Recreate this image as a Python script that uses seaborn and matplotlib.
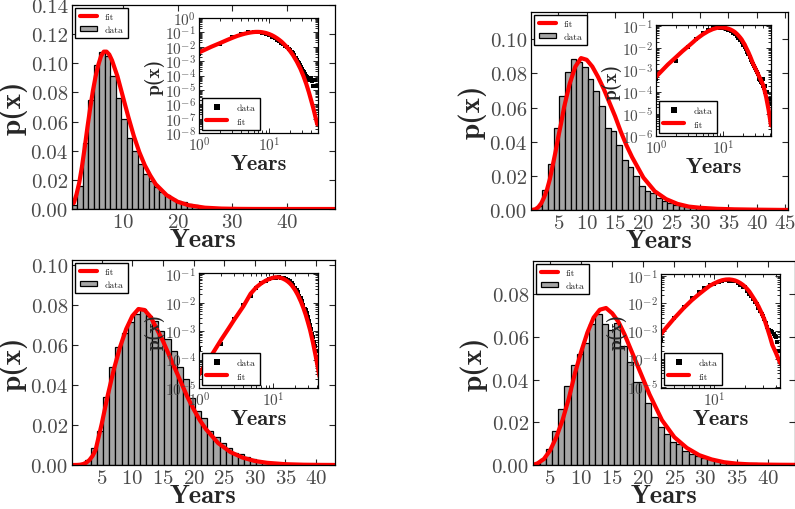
import numpy as np
import seaborn as sns
import matplotlib
matplotlib.use("Agg")
import matplotlib.pyplot as plt
from matplotlib.ticker import FormatStrFormatter, MultipleLocator, LogLocator, NullFormatter

# ---- data ----
# panel 1 (top left)
years_a = list(range(1, 49))
dens_a = [0.003, 0.016, 0.045, 0.075, 0.099, 0.108, 0.105, 0.091, 0.076, 0.062,
          0.049, 0.040, 0.031, 0.024, 0.019, 0.015, 0.012, 0.0093, 0.0072, 0.0058,
          0.0045, 0.0034, 0.0026, 0.0016, 0.0012, 0.0009, 0.0007, 0.0005, 0.0004, 0.0003,
          0.00022, 0.00017, 0.00013, 0.0001, 0.00008, 0.00006, 0.00005, 0.00006, 0.00005, 0.00007,
          0.00004, 0.00005, 0.00002, 0.00005, 0.00002, 0.00005, 0.00002, 0.00002]
fitx_a = [1.0, 1.5, 2, 2.5, 3, 3.5, 4, 4.5, 5, 5.5, 6, 6.5, 7, 7.5, 8, 9, 10, 11, 12, 13,
          14, 15, 16, 18, 20, 22, 25, 28, 31, 34, 37, 40, 43, 46, 48.8]
fity_a = [0.004, 0.010, 0.018, 0.029, 0.042, 0.056, 0.069, 0.081, 0.091, 0.099, 0.105,
          0.108, 0.108, 0.106, 0.102, 0.091, 0.077, 0.063, 0.050, 0.039, 0.030, 0.023,
          0.017, 0.0095, 0.0050, 0.0026, 0.0009, 0.0003, 9e-5, 2.6e-5, 7e-6, 1.8e-6,
          5e-7, 1.3e-7, 4e-8]

# panel 2 (top right)
years_b = list(range(1, 51))
dens_b = [0.0004, 0.0025, 0.012, 0.027, 0.048, 0.067, 0.081, 0.0885, 0.087, 0.084,
          0.077, 0.070, 0.061, 0.048, 0.046, 0.038, 0.029, 0.025, 0.020, 0.014,
          0.011, 0.0097, 0.0068, 0.0054, 0.004, 0.003, 0.0024, 0.0019, 0.0015, 0.0012,
          0.001, 0.0008, 0.00065, 0.0005, 0.0004, 0.00035, 0.0003, 0.00025, 0.0002, 0.0004,
          0.00015, 0.0002, 0.0001, 0.0001, 0.00005, 0.0001, 0.00005, 0.00005, 0.00003, 0.00005]
fitx_b = [0.3, 1, 1.5, 2, 2.5, 3, 3.5, 4, 4.5, 5, 5.5, 6, 7, 8, 9, 10, 11, 12, 13, 14, 15,
          16, 17, 18, 19, 20, 21, 22, 24, 26, 28, 30, 33, 36, 40, 44, 48, 52]
fity_b = [1e-6, 5e-4, 1.8e-3, 4e-3, 7.5e-3, 0.012, 0.018, 0.026, 0.034, 0.043, 0.051,
          0.060, 0.074, 0.084, 0.089, 0.088, 0.084, 0.078, 0.071, 0.063, 0.055, 0.046,
          0.038, 0.031, 0.025, 0.019, 0.015, 0.011, 0.0064, 0.0036, 0.0020, 0.0013,
          7e-4, 4e-4, 2e-4, 6e-5, 1.5e-5, 3e-6]

# panel 3 (bottom left)
years_c = list(range(1, 42))
dens_c = [0.00024, 0.00035, 0.0027, 0.0085, 0.017, 0.034, 0.049, 0.059, 0.066, 0.0715,
          0.0754, 0.0779, 0.0745, 0.072, 0.067, 0.063, 0.057, 0.049, 0.043, 0.0335,
          0.027, 0.0235, 0.017, 0.014, 0.011, 0.0084, 0.0062, 0.0055, 0.0042, 0.0032,
          0.0022, 0.0016, 0.0012, 0.0008, 0.0006, 0.0004, 0.0003, 0.0002, 0.00012, 0.0001, 0.00007]
fitx_c = [0.2, 1, 1.5, 2, 2.5, 3, 3.5, 4, 5, 6, 7, 8, 9, 10, 11, 12, 13, 14, 15, 16, 17,
          18, 19, 20, 21, 22, 24, 26, 28, 30, 32, 35, 38, 41, 43]
fity_c = [1e-7, 3e-5, 1.5e-4, 5e-4, 1.2e-3, 2.5e-3, 4.5e-3, 7.5e-3, 0.0205, 0.035, 0.048,
          0.059, 0.068, 0.0745, 0.078, 0.0775, 0.074, 0.068, 0.062, 0.055, 0.048, 0.041,
          0.034, 0.028, 0.0225, 0.018, 0.011, 0.0065, 0.0037, 0.002, 0.0011, 4e-4,
          1.4e-4, 5e-5, 2.5e-5]

# panel 4 (bottom right)
years_d = list(range(3, 44))
dens_d = [0.0005, 0.003, 0.0073, 0.016, 0.026, 0.037, 0.047, 0.052, 0.057, 0.066,
          0.0706, 0.066, 0.063, 0.0667, 0.0556, 0.048, 0.039, 0.039, 0.029, 0.0225,
          0.018, 0.0144, 0.011, 0.0097, 0.0066, 0.0053, 0.0042, 0.0034, 0.0027, 0.002,
          0.0014, 0.0011, 0.001, 0.001, 0.0009, 0.0008, 0.0007, 0.0006, 0.0004, 0.0002, 0.0001]
fitx_d = [2.3, 3, 4, 5, 6, 7, 8, 9, 10, 11, 12, 13, 14, 15, 16, 17, 18, 19, 20, 21, 22,
          23, 25, 27, 29, 31, 33, 35, 37, 40, 42, 44.4]
fity_d = [1e-4, 8e-4, 2.8e-3, 0.0068, 0.013, 0.021, 0.031, 0.043, 0.053, 0.062, 0.069,
          0.0727, 0.0735, 0.071, 0.067, 0.061, 0.054, 0.047, 0.040, 0.033, 0.027, 0.021,
          0.013, 0.008, 0.0046, 0.0026, 0.0013, 0.00065, 0.00032, 1.7e-4, 1.1e-4, 7e-5]

panels = [
    dict(years=years_a, dens=dens_a, fx=fitx_a, fy=fity_a, off=0.32,
         main=[72, 6, 335, 210], ins=[199, 19, 318, 134],
         xlim=(0.68, 48.8), ylim=(0, 0.14), xstep=10, ystep=0.02,
         ixlim=(1, 50), iylim=(1e-8, 1.0)),
    dict(years=years_b, dens=dens_b, fx=fitx_b, fy=fity_b, off=0.8,
         main=[531, 13, 788, 211], ins=[656, 26, 771, 137],
         xlim=(0.18, 45.5), ylim=(0, 0.116), xstep=5, ystep=0.02,
         ixlim=(1, 52), iylim=(1e-6, 0.115)),
    dict(years=years_c, dens=dens_c, fx=fitx_c, fy=fity_c, off=0.75,
         main=[72, 261, 335, 466], ins=[199, 274, 318, 389],
         xlim=(0.15, 43.1), ylim=(0, 0.1025), xstep=5, ystep=0.02,
         ixlim=(1, 41), iylim=(1e-5, 0.11)),
    dict(years=years_d, dens=dens_d, fx=fitx_d, fy=fity_d, off=0.7,
         main=[533, 262, 795, 466], ins=[661, 275, 780, 389],
         xlim=(2.25, 44.4), ylim=(0, 0.0955), xstep=5, ystep=0.02,
         ixlim=(3, 44), iylim=(9e-6, 0.115)),
]

W, H = 795, 510
sns.set_style("ticks")
plt.rcParams["font.family"] = "serif"
plt.rcParams["font.serif"] = ["cmr10"]
plt.rcParams["mathtext.fontset"] = "cm"
plt.rcParams["axes.formatter.use_mathtext"] = True
plt.rcParams["axes.edgecolor"] = "black"
plt.rcParams["axes.linewidth"] = 0.9

tick_grey = "#4a4a4a"


def rect(box):
    x0, y0, x1, y1 = box
    return [x0 / W, 1 - y1 / H, (x1 - x0) / W, (y1 - y0) / H]


fig = plt.figure(figsize=(W / 100, H / 100), dpi=100)

for p in panels:
    ax = fig.add_axes(rect(p["main"]))
    edges = [y - p["off"] for y in p["years"]] + [p["years"][-1] - p["off"] + 1]
    sns.histplot(x=p["years"], weights=p["dens"], bins=edges, color="#a6a6a6",
                 edgecolor="black", linewidth=0.9, alpha=1.0, label="data", ax=ax)
    sns.lineplot(x=p["fx"], y=p["fy"], color="red", linewidth=3, label="fit", ax=ax)
    ax.set_xlim(*p["xlim"])
    ax.set_ylim(*p["ylim"])
    ax.xaxis.set_major_locator(MultipleLocator(p["xstep"]))
    ax.yaxis.set_major_locator(MultipleLocator(p["ystep"]))
    ax.yaxis.set_major_formatter(FormatStrFormatter("%.2f"))
    ax.tick_params(direction="in", top=True, right=True, length=4, width=0.8,
                   labelsize=15, labelcolor=tick_grey, pad=3)
    ax.set_xlabel("Years", fontfamily="cmb10", fontsize=19, labelpad=-2)
    ax.set_ylabel("p(x)", fontfamily="cmb10", fontsize=21, labelpad=2)
    h, l = ax.get_legend_handles_labels()
    order = [l.index("fit"), l.index("data")]
    ax.legend([h[i] for i in order], [l[i] for i in order], loc="upper left",
              prop=dict(family="cmr10", size=7), fancybox=False, edgecolor="black",
              framealpha=1, handlelength=1.75, handleheight=0.55, handletextpad=0.8,
              borderaxespad=0.35, borderpad=0.45, labelspacing=0.45)
    for s in ax.spines.values():
        s.set_visible(True)

    ins = fig.add_axes(rect(p["ins"]))
    ins.set_xscale("log")
    ins.set_yscale("log")
    sns.scatterplot(x=p["years"], y=p["dens"], marker="s", color="black", s=12,
                    linewidth=0, label="data", ax=ins)
    sns.lineplot(x=p["fx"], y=p["fy"], color="red", linewidth=3, label="fit", ax=ins)
    ins.set_xlim(*p["ixlim"])
    ins.set_ylim(*p["iylim"])
    ins.xaxis.set_major_locator(LogLocator(base=10, numticks=20))
    ins.yaxis.set_major_locator(LogLocator(base=10, numticks=20))
    ins.xaxis.set_minor_locator(LogLocator(base=10, subs=np.arange(2, 10), numticks=20))
    ins.yaxis.set_minor_locator(LogLocator(base=10, subs=np.arange(2, 10), numticks=20))
    ins.xaxis.set_minor_formatter(NullFormatter())
    ins.yaxis.set_minor_formatter(NullFormatter())
    ins.tick_params(which="both", direction="in", top=True, right=True, width=0.7,
                    labelsize=11, labelcolor=tick_grey, pad=2)
    ins.tick_params(which="major", length=3.5)
    ins.tick_params(which="minor", length=2)
    ins.set_xlabel("Years", fontfamily="cmb10", fontsize=16, labelpad=0)
    ins.set_ylabel("p(x)", fontfamily="cmb10", fontsize=14, labelpad=0)
    ins.legend(loc="lower left", prop=dict(family="cmr10", size=7), fancybox=False,
               edgecolor="black", framealpha=1, handlelength=2.1, handletextpad=1.0,
               borderaxespad=0.3, borderpad=0.45, labelspacing=0.55, markerscale=1.1)
    for s in ins.spines.values():
        s.set_visible(True)

fig.savefig("out.png", dpi=100)
